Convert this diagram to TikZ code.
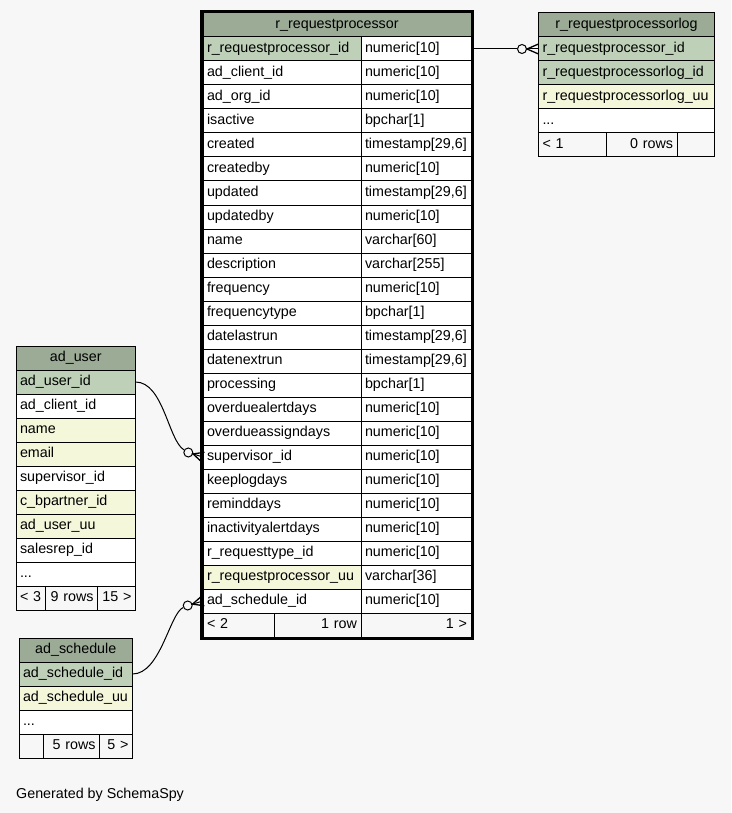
\documentclass[tikz,border=0pt]{standalone}
\usepackage{fontspec}
\setmainfont{Liberation Sans}
\usetikzlibrary{calc}

\definecolor{hdr}{HTML}{9BAB96}
\definecolor{pkey}{HTML}{BED1B8}
\definecolor{idx}{HTML}{F4F7DA}
\definecolor{bg}{HTML}{F7F7F7}

\begin{document}
\begin{tikzpicture}[x=1pt, y=-1pt,
    cell/.style={draw, fill=white, anchor=north west, minimum height=24pt, outer sep=0pt,
        inner xsep=4pt, inner ysep=0pt, text height=10.5pt, text depth=3pt, line width=1pt,
        font=\fontsize{14.3}{17}\selectfont},
    w/.style={text width=#1, align=left},
    wr/.style={text width=#1, align=right},
    title/.style={fill=hdr, align=center},
    foot/.style={fill=bg},
    ring/.style={circle, draw, fill=bg, inner sep=0pt, minimum size=9pt, line width=1pt}]

    \useasboundingbox[fill=bg] (0,0) rectangle (731,813);

    % r_requestprocessor
    \node[cell, title, text width=260pt] (rp) at (203,13) {r\_requestprocessor};
    \node[cell, w=150pt, fill=pkey] (rp1) at (203,37) {r\_requestprocessor\_id};
    \node[cell, w=102pt] (rp1t) at (361,37) {numeric[10]};
    \node[cell, w=150pt] (rp2) at (203,61) {ad\_client\_id};
    \node[cell, w=102pt] (rp2t) at (361,61) {numeric[10]};
    \node[cell, w=150pt] (rp3) at (203,85) {ad\_org\_id};
    \node[cell, w=102pt] (rp3t) at (361,85) {numeric[10]};
    \node[cell, w=150pt] (rp4) at (203,109) {isactive};
    \node[cell, w=102pt] (rp4t) at (361,109) {bpchar[1]};
    \node[cell, w=150pt] (rp5) at (203,133) {created};
    \node[cell, w=102pt] (rp5t) at (361,133) {timestamp[29,6]};
    \node[cell, w=150pt] (rp6) at (203,157) {createdby};
    \node[cell, w=102pt] (rp6t) at (361,157) {numeric[10]};
    \node[cell, w=150pt] (rp7) at (203,181) {updated};
    \node[cell, w=102pt] (rp7t) at (361,181) {timestamp[29,6]};
    \node[cell, w=150pt] (rp8) at (203,205) {updatedby};
    \node[cell, w=102pt] (rp8t) at (361,205) {numeric[10]};
    \node[cell, w=150pt] (rp9) at (203,229) {name};
    \node[cell, w=102pt] (rp9t) at (361,229) {varchar[60]};
    \node[cell, w=150pt] (rp10) at (203,253) {description};
    \node[cell, w=102pt] (rp10t) at (361,253) {varchar[255]};
    \node[cell, w=150pt] (rp11) at (203,277) {frequency};
    \node[cell, w=102pt] (rp11t) at (361,277) {numeric[10]};
    \node[cell, w=150pt] (rp12) at (203,301) {frequencytype};
    \node[cell, w=102pt] (rp12t) at (361,301) {bpchar[1]};
    \node[cell, w=150pt] (rp13) at (203,325) {datelastrun};
    \node[cell, w=102pt] (rp13t) at (361,325) {timestamp[29,6]};
    \node[cell, w=150pt] (rp14) at (203,349) {datenextrun};
    \node[cell, w=102pt] (rp14t) at (361,349) {timestamp[29,6]};
    \node[cell, w=150pt] (rp15) at (203,373) {processing};
    \node[cell, w=102pt] (rp15t) at (361,373) {bpchar[1]};
    \node[cell, w=150pt] (rp16) at (203,397) {overduealertdays};
    \node[cell, w=102pt] (rp16t) at (361,397) {numeric[10]};
    \node[cell, w=150pt] (rp17) at (203,421) {overdueassigndays};
    \node[cell, w=102pt] (rp17t) at (361,421) {numeric[10]};
    \node[cell, w=150pt] (rp18) at (203,445) {supervisor\_id};
    \node[cell, w=102pt] (rp18t) at (361,445) {numeric[10]};
    \node[cell, w=150pt] (rp19) at (203,469) {keeplogdays};
    \node[cell, w=102pt] (rp19t) at (361,469) {numeric[10]};
    \node[cell, w=150pt] (rp20) at (203,493) {reminddays};
    \node[cell, w=102pt] (rp20t) at (361,493) {numeric[10]};
    \node[cell, w=150pt] (rp21) at (203,517) {inactivityalertdays};
    \node[cell, w=102pt] (rp21t) at (361,517) {numeric[10]};
    \node[cell, w=150pt] (rp22) at (203,541) {r\_requesttype\_id};
    \node[cell, w=102pt] (rp22t) at (361,541) {numeric[10]};
    \node[cell, w=150pt, fill=idx] (rp23) at (203,565) {r\_requestprocessor\_uu};
    \node[cell, w=102pt] (rp23t) at (361,565) {varchar[36]};
    \node[cell, w=150pt] (rp24) at (203,589) {ad\_schedule\_id};
    \node[cell, w=102pt] (rp24t) at (361,589) {numeric[10]};
    \node[cell, foot, w=63pt] (rpf1) at (203,613) {< 2};
    \node[cell, foot, wr=79pt] (rpf2) at (274,613) {1 row};
    \node[cell, foot, wr=102pt] (rpf3) at (361,613) {1 >};
    \draw[line width=3pt] ($(rp.north west)+(-1.5,-1.5)$) rectangle ($(rpf3.south east)+(1.5,1.5)$);

    % r_requestprocessorlog
    \node[cell, title, text width=168pt] (lg) at (538.5,12.5) {r\_requestprocessorlog};
    \node[cell, w=168pt, fill=pkey] (lg1) at (538.5,37) {r\_requestprocessor\_id};
    \node[cell, w=168pt, fill=pkey] (lg2) at (538.5,61) {r\_requestprocessorlog\_id};
    \node[cell, w=168pt, fill=idx] (lg3) at (538.5,85) {r\_requestprocessorlog\_uu};
    \node[cell, w=168pt] (lg4) at (538.5,109) {...};
    \node[cell, foot, w=60pt] (lgf1) at (538.5,133) {< 1};
    \node[cell, foot, wr=62.5pt] (lgf2) at (606.5,133) {0 rows};
    \node[cell, foot, w=29.5pt] (lgf3) at (677,133) {};

    % ad_user
    \node[cell, title, text width=111.5pt] (au) at (16,346) {ad\_user};
    \node[cell, w=111.5pt, fill=pkey] (au1) at (16,370) {ad\_user\_id};
    \node[cell, w=111.5pt] (au2) at (16,394) {ad\_client\_id};
    \node[cell, w=111.5pt, fill=idx] (au3) at (16,418) {name};
    \node[cell, w=111.5pt, fill=idx] (au4) at (16,442) {email};
    \node[cell, w=111.5pt] (au5) at (16,466) {supervisor\_id};
    \node[cell, w=111.5pt, fill=idx] (au6) at (16,490) {c\_bpartner\_id};
    \node[cell, w=111.5pt, fill=idx] (au7) at (16,514) {ad\_user\_uu};
    \node[cell, w=111.5pt] (au8) at (16,538) {salesrep\_id};
    \node[cell, w=111.5pt] (au9) at (16,562) {...};
    \node[cell, foot, w=21.5pt] (auf1) at (16,586) {< 3};
    \node[cell, foot, wr=44pt] (auf2) at (45.5,586) {9 rows};
    \node[cell, foot, wr=30pt] (auf3) at (97.5,586) {15 >};

    % ad_schedule
    \node[cell, title, text width=105.5pt] (as) at (19,638) {ad\_schedule};
    \node[cell, w=105.5pt, fill=pkey] (as1) at (19,662) {ad\_schedule\_id};
    \node[cell, w=105.5pt, fill=idx] (as2) at (19,686) {ad\_schedule\_uu};
    \node[cell, w=105.5pt] (as3) at (19,710) {...};
    \node[cell, foot, w=16.5pt] (asf1) at (19,734) {};
    \node[cell, foot, wr=48pt] (asf2) at (43.5,734) {5 rows};
    \node[cell, foot, wr=25pt] (asf3) at (99.5,734) {5 >};

    \node[anchor=base west, inner sep=0pt, font=\fontsize{14.3}{17}\selectfont] (gen) at (16,798) {Generated by SchemaSpy};

    % relations
    \node[ring] (o1) at (522,49) {};
    \node[ring] (o2) at (188.3,452.5) {};
    \node[ring] (o3) at (187.7,605.5) {};

    \begin{scope}[line width=1pt]
        \draw (rp1t.east) -- (o1);
        \draw (au1.east) .. controls +(28,0) and +(-20,-12) .. (o2);
        \draw (as1.east) .. controls +(28,0) and +(-18,8) .. (o3);

        \draw ($(o1)!4.5pt!(lg1.west)$) -- (lg1.west);
        \draw[line width=1.3pt] ($(lg1.west)!5pt!90:(o1)$) -- ($(o1)!5pt!(lg1.west)$) -- ($(lg1.west)!5pt!-90:(o1)$);
        \draw ($(o2)!4.5pt!(rp18.west)$) -- (rp18.west);
        \draw[line width=1.3pt] ($(rp18.west)!5pt!90:(o2)$) -- ($(o2)!5pt!(rp18.west)$) -- ($(rp18.west)!5pt!-90:(o2)$);
        \draw ($(o3)!4.5pt!(rp24.west)$) -- (rp24.west);
        \draw[line width=1.3pt] ($(rp24.west)!5pt!90:(o3)$) -- ($(o3)!5pt!(rp24.west)$) -- ($(rp24.west)!5pt!-90:(o3)$);
    \end{scope}

\end{tikzpicture}
\end{document}
